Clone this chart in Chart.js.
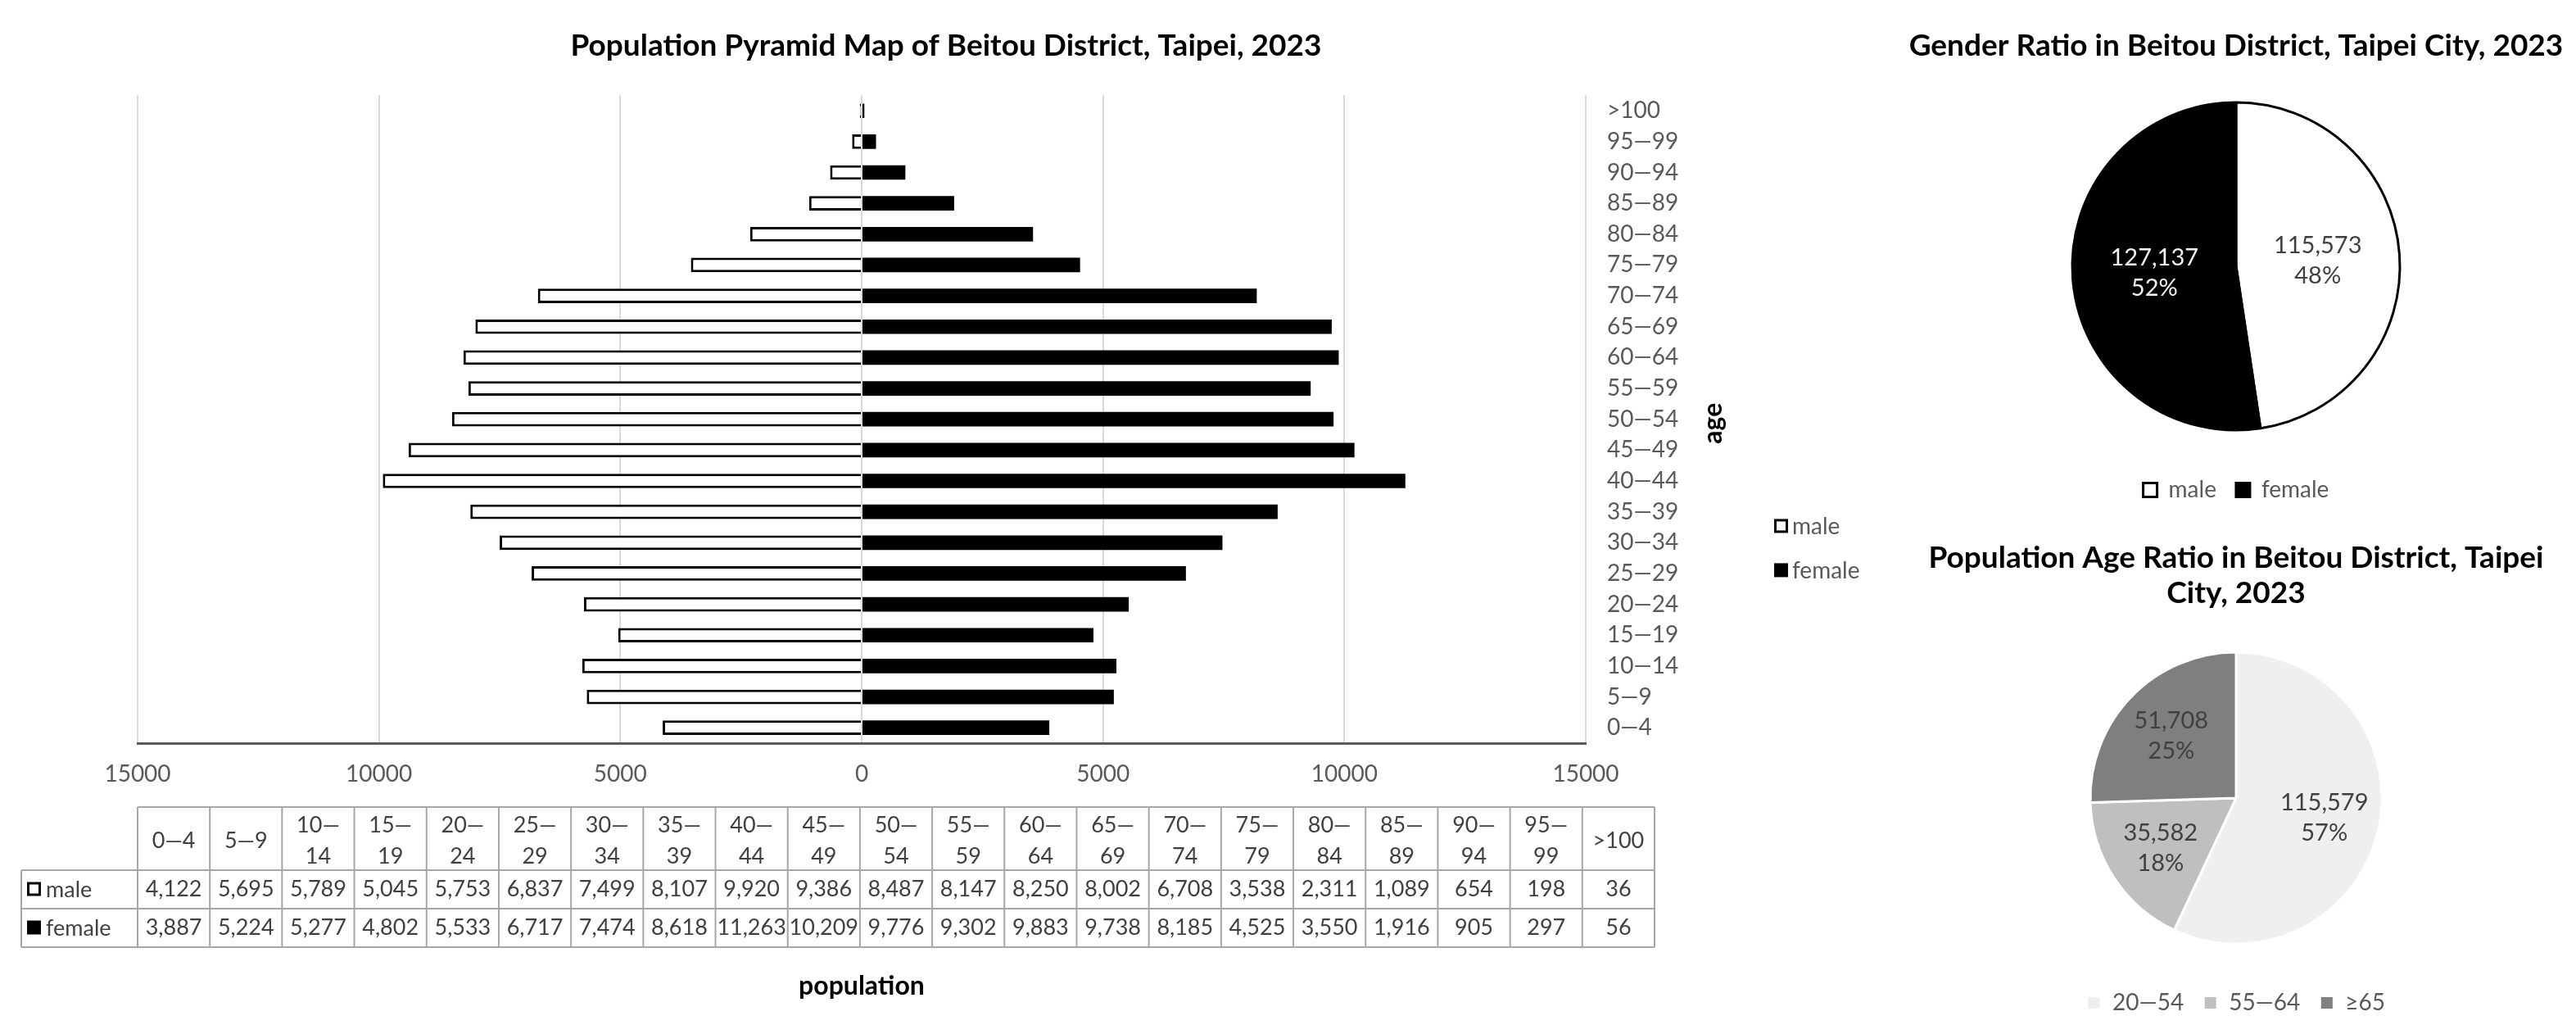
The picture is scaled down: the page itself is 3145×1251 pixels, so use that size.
<!DOCTYPE html>
<html>
<head>
<meta charset="utf-8">
<title>Beitou District Population 2023</title>
<script src="https://cdn.jsdelivr.net/npm/chart.js@4.4.1/dist/chart.umd.min.js"></script>
<style>
  html, body { margin: 0; padding: 0; background: #ffffff; }
  #wrap { position: relative; width: 3145px; height: 1251px; overflow: hidden; background: #ffffff; }
  canvas { position: absolute; }
  #pyramid { left: 0; top: 0; }
  #gender { left: 2300px; top: 0; }
  #ageRatio { left: 2300px; top: 630px; }
</style>
</head>
<body>
<div id="wrap">
  <canvas id="pyramid" width="2330" height="1251"></canvas>
  <canvas id="gender" width="845" height="630"></canvas>
  <canvas id="ageRatio" width="845" height="621"></canvas>
</div>
<script>
const FONT = "Lato, 'Open Sans', sans-serif";

const ageGroups = ['0—4', '5—9', '10—14', '15—19', '20—24', '25—29', '30—34', '35—39', '40—44', '45—49',
  '50—54', '55—59', '60—64', '65—69', '70—74', '75—79', '80—84', '85—89', '90—94', '95—99', '>100'];
const maleValues = [4122, 5695, 5789, 5045, 5753, 6837, 7499, 8107, 9920, 9386,
  8487, 8147, 8250, 8002, 6708, 3538, 2311, 1089, 654, 198, 36];
const femaleValues = [3887, 5224, 5277, 4802, 5533, 6717, 7474, 8618, 11263, 10209,
  9776, 9302, 9883, 9738, 8185, 4525, 3550, 1916, 905, 297, 56];
const seriesNames = ['male', 'female'];
const xLimit = 15000;
const xStep = 5000;

const genderLabels = ['male', 'female'];
const genderValues = [115573, 127137];

const ageRatioLabels = ['20—54', '55—64', '≥65'];
const ageRatioValues = [115579, 35582, 51708];

Chart.defaults.font.family = FONT;

function fmt(n) {
  return n.toLocaleString('en-US');
}

// header cells wrap after the dash like the spreadsheet table does
function headerLines(label) {
  const i = label.indexOf('—');
  if (i < 0 || label.length <= 3) return [label];
  return [label.slice(0, i + 1), label.slice(i + 1)];
}

function drawSwatch(ctx, x, y, size, fill, stroke) {
  ctx.fillStyle = fill;
  ctx.fillRect(x, y, size, size);
  if (stroke) {
    ctx.strokeStyle = stroke;
    ctx.lineWidth = 3;
    ctx.strokeRect(x + 1.5, y + 1.5, size - 3, size - 3);
  }
}

function drawDataTable(ctx, area) {
  const colW = (area.right - area.left + 84) / ageGroups.length;
  const left = area.left;
  const right = left + colW * ageGroups.length;
  const labelLeft = 26;
  const rows = [area.bottom + 78, area.bottom + 155, area.bottom + 202, area.bottom + 249];

  ctx.strokeStyle = '#a6a6a6';
  ctx.lineWidth = 2;
  ctx.beginPath();
  ctx.moveTo(left, rows[0]); ctx.lineTo(right, rows[0]);
  for (let r = 1; r < rows.length; r++) {
    ctx.moveTo(labelLeft, rows[r]); ctx.lineTo(right, rows[r]);
  }
  ctx.moveTo(labelLeft, rows[1]); ctx.lineTo(labelLeft, rows[3]);
  for (let c = 0; c <= ageGroups.length; c++) {
    const x = left + c * colW;
    ctx.moveTo(x, rows[0]); ctx.lineTo(x, rows[3]);
  }
  ctx.stroke();

  ctx.fillStyle = '#404040';
  ctx.font = '27px ' + FONT;
  ctx.textAlign = 'center';
  ctx.textBaseline = 'middle';
  const headMid = (rows[0] + rows[1]) / 2 + 3;
  ageGroups.forEach((g, c) => {
    const x = left + (c + 0.5) * colW;
    const lines = headerLines(g);
    if (lines.length === 1) {
      ctx.fillText(lines[0], x, headMid);
    } else {
      ctx.fillText(lines[0], x, headMid - 19);
      ctx.fillText(lines[1], x, headMid + 19);
    }
    ctx.fillText(fmt(maleValues[c]), x, (rows[1] + rows[2]) / 2);
    ctx.fillText(fmt(femaleValues[c]), x, (rows[2] + rows[3]) / 2);
  });

  const rowKeys = [
    { name: seriesNames[0], fill: '#ffffff', stroke: '#000000', y: (rows[1] + rows[2]) / 2 },
    { name: seriesNames[1], fill: '#000000', stroke: null, y: (rows[2] + rows[3]) / 2 }
  ];
  ctx.textAlign = 'left';
  rowKeys.forEach(k => {
    drawSwatch(ctx, labelLeft + 7, k.y - 9, 17, k.fill, k.stroke);
    ctx.fillStyle = '#404040';
    ctx.fillText(k.name, labelLeft + 30, k.y + 1);
  });
}

const pyramidExtras = {
  id: 'pyramidExtras',
  afterDraw(chart) {
    const ctx = chart.ctx;
    const area = chart.chartArea;
    ctx.save();

    // axis titles
    ctx.fillStyle = '#000000';
    ctx.font = 'bold 32px ' + FONT;
    ctx.textAlign = 'center';
    ctx.textBaseline = 'middle';
    ctx.fillText('population', (area.left + area.right) / 2, area.bottom + 297);
    ctx.save();
    ctx.translate(area.right + 156, (area.top + area.bottom) / 2 + 5);
    ctx.rotate(-Math.PI / 2);
    ctx.fillText('age', 0, 0);
    ctx.restore();

    // side legend
    ctx.font = '28px ' + FONT;
    ctx.textAlign = 'left';
    const lx = area.right + 230;
    chart.data.datasets.forEach((ds, i) => {
      const y = area.top + 526 + i * 54;
      drawSwatch(ctx, lx, y - 9, 17, ds.backgroundColor, ds.borderWidth ? ds.borderColor : null);
      ctx.fillStyle = '#595959';
      ctx.fillText(ds.label, lx + 22, y + 1);
    });

    drawDataTable(ctx, area);
    ctx.restore();
  }
};

new Chart(document.getElementById('pyramid'), {
  type: 'bar',
  data: {
    labels: ageGroups,
    datasets: [
      {
        label: seriesNames[0],
        data: maleValues.map(v => -v),
        backgroundColor: '#ffffff',
        borderColor: '#000000',
        borderWidth: 3,
        borderSkipped: 'start'
      },
      {
        label: seriesNames[1],
        data: femaleValues,
        backgroundColor: '#000000',
        borderWidth: 0
      }
    ]
  },
  options: {
    indexAxis: 'y',
    responsive: false,
    animation: false,
    barPercentage: 0.47,
    categoryPercentage: 1,
    layout: { padding: { left: 168, right: 188, top: 0, bottom: 0 } },
    scales: {
      x: {
        stacked: true,
        min: -xLimit,
        max: xLimit,
        ticks: {
          stepSize: xStep,
          color: '#595959',
          font: { size: 28 },
          padding: 21,
          maxRotation: 0,
          callback: value => Math.abs(value)
        },
        grid: { color: '#d9d9d9', lineWidth: 2, drawTicks: false },
        border: { display: true, color: '#595959', width: 3 },
        afterFit: scale => { scale.height = 344; }
      },
      y: {
        stacked: true,
        position: 'right',
        reverse: true,
        ticks: { color: '#595959', font: { size: 28 }, padding: 26 },
        grid: { display: false, drawTicks: false },
        border: { display: false },
        afterFit: scale => { scale.width = 206; }
      }
    },
    plugins: {
      legend: { display: false },
      tooltip: { enabled: false },
      title: {
        display: true,
        text: 'Population Pyramid Map of Beitou District, Taipei, 2023',
        color: '#000000',
        font: { size: 37, weight: 'bold', lineHeight: 1.2 },
        padding: { top: 33.8, bottom: 38.2 }
      }
    }
  },
  plugins: [pyramidExtras]
});

const sliceLabels = {
  id: 'sliceLabels',
  afterDatasetsDraw(chart, args, opts) {
    const ctx = chart.ctx;
    const meta = chart.getDatasetMeta(0);
    const values = chart.data.datasets[0].data;
    const total = values.reduce((a, b) => a + b, 0);
    ctx.save();
    ctx.font = '29px ' + FONT;
    ctx.textAlign = 'center';
    ctx.textBaseline = 'middle';
    meta.data.forEach((arc, i) => {
      const mid = (arc.startAngle + arc.endAngle) / 2;
      const r = arc.outerRadius * opts.distance;
      const x = arc.x + Math.cos(mid) * r;
      const y = arc.y + Math.sin(mid) * r;
      ctx.fillStyle = opts.colors[i];
      ctx.fillText(fmt(values[i]), x, y - 18);
      ctx.fillText(Math.round(values[i] / total * 100) + '%', x, y + 19);
    });
    ctx.restore();
  }
};

function drawPie(id, labels, values, style) {
  return new Chart(document.getElementById(id), {
    type: 'pie',
    data: {
      labels: labels,
      datasets: [{
        data: values,
        backgroundColor: style.colors,
        borderColor: style.borders,
        borderWidth: 3,
        radius: style.radius
      }]
    },
    options: {
      responsive: false,
      animation: false,
      layout: { padding: { left: 15, bottom: style.padBottom } },
      plugins: {
        tooltip: { enabled: false },
        title: {
          display: true,
          text: style.title,
          color: '#000000',
          font: { size: 37, weight: 'bold', lineHeight: style.titleLineHeight },
          padding: { top: style.titleTop, bottom: style.titleBottom }
        },
        legend: {
          position: 'bottom',
          labels: {
            boxWidth: 17,
            boxHeight: 17,
            padding: 24,
            color: '#595959',
            font: { size: 28 }
          }
        },
        sliceLabels: { distance: style.labelDistance, colors: style.labelColors }
      }
    },
    plugins: [sliceLabels]
  });
}

drawPie('gender', genderLabels, genderValues, {
  title: 'Gender Ratio in Beitou District, Taipei City, 2023',
  colors: ['#ffffff', '#000000'],
  borders: ['#000000', '#000000'],
  radius: 200,
  padBottom: 8,
  titleLineHeight: 1.2,
  titleTop: 33.8,
  titleBottom: 11.8,
  labelDistance: 0.5,
  labelColors: ['#404040', '#f2f2f2']
});

drawPie('ageRatio', ageRatioLabels, ageRatioValues, {
  title: ['Population Age Ratio in Beitou District, Taipei', 'City, 2023'],
  colors: ['#efefef', '#bfbfbf', '#7f7f7f'],
  borders: ['#ffffff', '#ffffff', '#ffffff'],
  radius: 178,
  padBottom: 3,
  titleLineHeight: 1.168,
  titleTop: 29.4,
  titleBottom: 16.2,
  labelDistance: 0.62,
  labelColors: ['#404040', '#404040', '#404040']
});
</script>
</body>
</html>
